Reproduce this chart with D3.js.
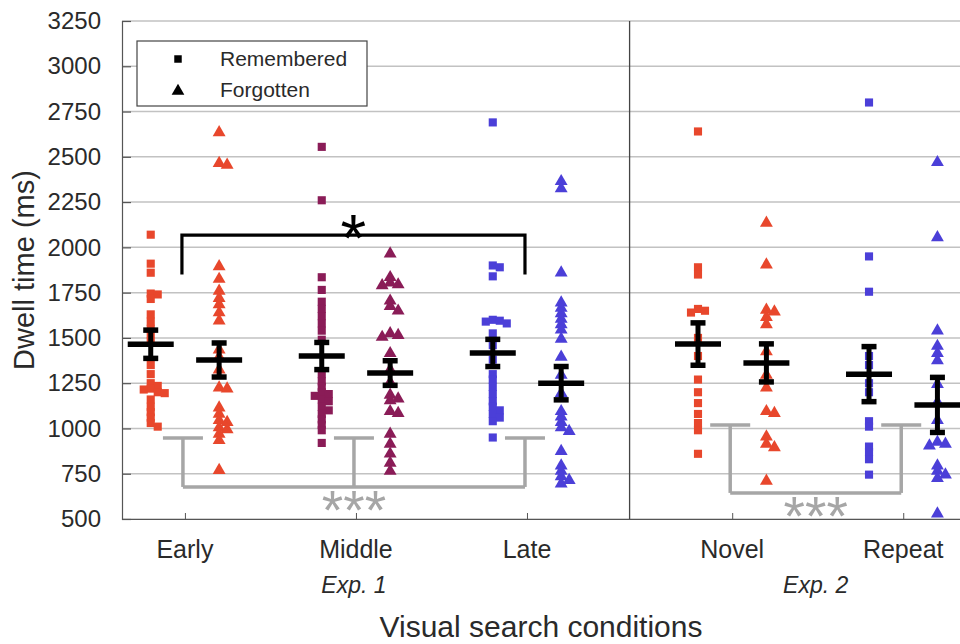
<!DOCTYPE html>
<html><head><meta charset="utf-8">
<script src="https://cdn.jsdelivr.net/npm/d3@7"></script>
<style>body{margin:0;background:#fff}svg{display:block}text{font-family:"Liberation Sans",Arial,sans-serif}</style>
</head><body><svg id="c" width="960" height="644"></svg>
<script>
const categories = ["Early","Middle","Late","Novel","Repeat"];
const experiments = ["Exp. 1","Exp. 1","Exp. 1","Exp. 2","Exp. 2"];
const categoryColors = ["#e8472c","#8a1c57","#4b3fd8","#e8472c","#4b3fd8"];
const yTicks = [500,750,1000,1250,1500,1750,2000,2250,2500,2750,3000,3250];

const rememberedEarly = [2070,1910,1860,1745,1740,1715,1630,1590,1550,1520,1480,1350,1300,1250,1235,1220,1215,1200,1195,1160,1120,1090,1060,1030,1010];
const forgottenEarly = [2640,2470,2460,1900,1830,1765,1725,1690,1645,1600,1440,1400,1330,1230,1225,1120,1085,1050,1040,1010,1000,975,940,775];
const rememberedMiddle = [2555,2260,1835,1765,1700,1660,1620,1580,1540,1490,1300,1260,1230,1200,1190,1180,1160,1150,1120,1100,1080,1050,1020,990,920];
const forgottenMiddle = [1970,1840,1810,1800,1795,1710,1680,1655,1530,1520,1510,1420,1330,1260,1190,1170,1160,1100,1090,975,920,865,815,770];
const rememberedLate = [2690,1900,1890,1840,1600,1595,1590,1580,1525,1460,1380,1300,1270,1230,1190,1150,1120,1100,1080,1060,1040,950];
const forgottenLate = [2370,2330,1865,1700,1670,1640,1610,1580,1550,1500,1400,1300,1200,1100,1070,1040,1010,990,880,800,770,740,720,700];
const rememberedNovel = [2640,1890,1850,1660,1650,1640,1500,1400,1270,1200,1140,1080,1030,990,860];
const forgottenNovel = [2140,1910,1660,1650,1620,1580,1430,1300,1230,1100,1090,960,920,900,715];
const rememberedRepeat = [2800,1950,1755,1400,1350,1250,1200,1040,1010,900,870,830,745];
const forgottenRepeat = [2475,2060,1545,1460,1420,1380,1250,1150,1050,930,920,910,800,770,750,730,535];

const rememberedMeans = [1465,1400,1417,1466,1300];
const rememberedSE = [78,75,75,117,152];
const forgottenMeans = [1378,1306,1250,1362,1130];
const forgottenSE = [94,68,92,105,152];

const legendLabels = ["Remembered","Forgotten"];
const sigLabels = ["*","***","***"];

const remembered = [rememberedEarly,rememberedMiddle,rememberedLate,rememberedNovel,rememberedRepeat];
const forgotten = [forgottenEarly,forgottenMiddle,forgottenLate,forgottenNovel,forgottenRepeat];

const svg = d3.select("#c");
const W = 960, H = 644;
const plotLeft = 122, plotTop = 21, plotBottom = 519;

const expNames = Array.from(new Set(experiments));
const slot = categories.map((c,i)=> i + 1 + expNames.indexOf(experiments[i]) * 0.2);
const x = d3.scaleLinear().domain([0.632, 5.532]).range([plotLeft, W]);
const y = d3.scaleLinear().domain([500, 3250]).range([plotBottom, plotTop]);
const unit = x(2) - x(1);
const off = 0.2 * unit;
const cx = i => x(slot[i]);

// grid
svg.append("g").selectAll("line").data(yTicks).join("line")
  .attr("x1", plotLeft).attr("x2", W).attr("y1", d=>y(d)).attr("y2", d=>y(d))
  .attr("stroke", "#c2c2c2").attr("stroke-width", 1.5);

// y axis
const yAxis = d3.axisLeft(y).tickValues(yTicks).tickSize(-9).tickPadding(21).tickFormat(d3.format("d"));
const gy = svg.append("g").attr("transform", `translate(${plotLeft},0)`).call(yAxis);
gy.select(".domain").attr("stroke", "#555").attr("stroke-width", 1.2);
gy.selectAll(".tick line").attr("stroke", "#555").attr("stroke-width", 1.2);
gy.selectAll(".tick text").attr("font-size", 24).attr("fill", "#2a2a2a").attr("font-family", '"Liberation Sans",Arial,sans-serif');

// x axis
const xAxis = d3.axisBottom(x).tickValues(slot).tickSize(-6).tickFormat("").tickSizeOuter(0);
const gx = svg.append("g").attr("transform", `translate(0,${plotBottom})`).call(xAxis);
gx.select(".domain").attr("stroke", "#555").attr("stroke-width", 1.2);
gx.selectAll(".tick line").attr("stroke", "#555");
svg.append("g").selectAll("text").data(categories).join("text")
  .attr("x", (d,i)=>cx(i)).attr("y", 558).attr("text-anchor", "middle")
  .attr("font-size", 25).attr("fill", "#2a2a2a").text(d=>d);

expNames.forEach(e=>{
  const idx = categories.map((c,i)=>i).filter(i=>experiments[i]===e);
  const mid = d3.mean(idx.map(i=>cx(i)));
  svg.append("text").attr("x", mid - 2).attr("y", 593).attr("text-anchor","middle")
    .attr("font-size", 23).attr("font-style","italic").attr("fill","#2a2a2a").text(e);
});

const sepX = x((slot[2] + slot[3]) / 2);
svg.append("line").attr("x1", sepX).attr("x2", sepX).attr("y1", plotTop).attr("y2", plotBottom)
  .attr("stroke", "#444").attr("stroke-width", 1.3);

svg.append("text").attr("x", 541).attr("y", 637).attr("text-anchor","middle")
  .attr("font-size", 30).attr("fill","#2a2a2a").text("Visual search conditions");
svg.append("text").attr("transform","translate(34,270) rotate(-90)").attr("text-anchor","middle")
  .attr("font-size", 29).attr("fill","#2a2a2a").text("Dwell time (ms)");

function dodge(values, center, stepX, hitY){
  const placed = [];
  const sorted = values.slice().sort((a,b)=>b-a);
  sorted.forEach(v=>{
    const py = y(v);
    let k = 0, px = center;
    while(true){
      const cand = k===0 ? 0 : (k%2===1 ? 1 : -1) * Math.ceil(k/2) * stepX;
      const ok = placed.every(p => Math.abs(p.y - py) >= hitY || Math.abs(p.x - (center+cand)) >= stepX*0.99);
      if(ok || k>10){ px = center + cand; break; }
      k++;
    }
    placed.push({x:px, y:py, v});
  });
  return placed;
}

const sq = d3.symbol().type(d3.symbolSquare).size(66);
const tri = d3.symbol().type(d3.symbolTriangle).size(72);

categories.forEach((c,i)=>{
  const col = categoryColors[i];
  const rp = dodge(remembered[i], cx(i) - off, 7, 5);
  svg.append("g").selectAll("path").data(rp).join("path")
    .attr("d", sq).attr("transform", d=>`translate(${d.x},${d.y})`).attr("fill", col);
  const fp = dodge(forgotten[i], cx(i) + off, 8, 5);
  svg.append("g").selectAll("path").data(fp).join("path")
    .attr("d", tri).attr("transform", d=>`translate(${d.x},${d.y+1})`).attr("fill", col);
});

function meanBar(xc, m, se){
  const g = svg.append("g").attr("stroke","#000");
  g.append("line").attr("x1", xc-23).attr("x2", xc+23).attr("y1", y(m)).attr("y2", y(m)).attr("stroke-width", 5.5);
  g.append("line").attr("x1", xc).attr("x2", xc).attr("y1", y(m-se)).attr("y2", y(m+se)).attr("stroke-width", 5);
  [m-se, m+se].forEach(v=> g.append("line").attr("x1", xc-7.5).attr("x2", xc+7.5).attr("y1", y(v)).attr("y2", y(v)).attr("stroke-width", 5.5));
}
categories.forEach((c,i)=>{
  meanBar(cx(i) - off, rememberedMeans[i], rememberedSE[i]);
  meanBar(cx(i) + off, forgottenMeans[i], forgottenSE[i]);
});

{
  const x1 = x(slot[0]) - 3, x2 = x(slot[2]) - 2;
  svg.append("path").attr("d", `M${x1},${y(1850)}V${y(2068)}H${x2}V${y(1850)}`)
    .attr("fill","none").attr("stroke","#000").attr("stroke-width",3.2);
  svg.append("text").attr("x", (x1+x2)/2).attr("y", y(2068) + 26).attr("text-anchor","middle")
    .attr("font-size", 66).attr("fill","#000").text(sigLabels[0]);
}
function rfBracket(idx, topV, botV, label){
  const g = svg.append("g").attr("fill","none").attr("stroke","#a6a6a6").attr("stroke-width",3.5);
  idx.forEach(i=>{
    const xc = cx(i) - 2;
    g.append("line").attr("x1", xc - 20).attr("x2", xc + 20).attr("y1", y(topV)).attr("y2", y(topV));
    g.append("line").attr("x1", xc).attr("x2", xc).attr("y1", y(topV)).attr("y2", y(botV));
  });
  const xa = cx(idx[0]) - 2, xb = cx(idx[idx.length-1]) - 2;
  g.append("line").attr("x1", xa).attr("x2", xb).attr("y1", y(botV)).attr("y2", y(botV));
  svg.append("text").attr("x", (xa+xb)/2).attr("y", y(botV) + 42).attr("text-anchor","middle")
    .attr("font-size", 55).attr("fill","#a6a6a6").text(label);
}
rfBracket([0,1,2], 947, 677, sigLabels[1]);
rfBracket([3,4], 1019, 644, sigLabels[2]);

const lg = svg.append("g");
lg.append("rect").attr("x",137).attr("y",41).attr("width",230).attr("height",65)
  .attr("fill","#fff").attr("stroke","#444").attr("stroke-width",1.2);
lg.append("path").attr("d", d3.symbol().type(d3.symbolSquare).size(56)).attr("transform","translate(178,59)").attr("fill","#000");
lg.append("path").attr("d", d3.symbol().type(d3.symbolTriangle).size(70)).attr("transform","translate(178,91)").attr("fill","#000");
legendLabels.forEach((t,k)=>{
  lg.append("text").attr("x",220).attr("y", 66 + k*31).attr("font-size",21).attr("fill","#2a2a2a").text(t);
});
</script></body></html>
